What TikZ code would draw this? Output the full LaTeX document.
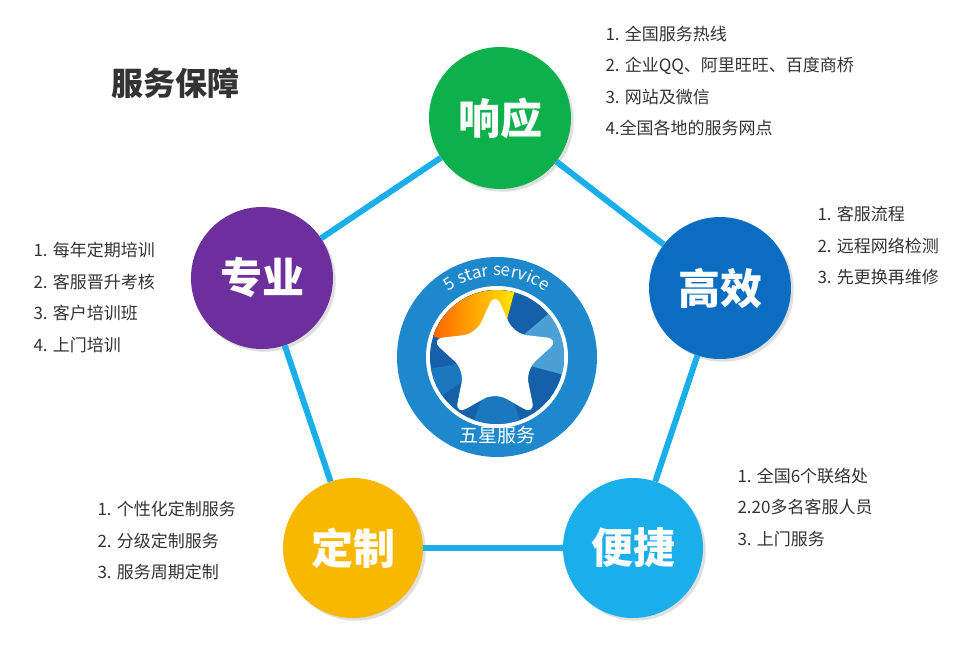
\documentclass[tikz,border=0pt]{standalone}
\usepackage{fontspec}
\setmainfont{Noto Sans CJK SC}
\usetikzlibrary{shapes.geometric,decorations.text,shadows}
\definecolor{cgreen}{HTML}{0DB04B}
\definecolor{cblue}{HTML}{0A6DC2}
\definecolor{ccyan}{HTML}{1AAEEB}
\definecolor{cyel}{HTML}{F9B800}
\definecolor{cpur}{HTML}{6E2F9E}
\definecolor{cline}{HTML}{1AAEEB}
\definecolor{logob}{HTML}{1E88CC}
\definecolor{logod}{HTML}{1560A8}
\definecolor{txt}{HTML}{333333}
\tikzset{
 bub/.style={circle,minimum size=142pt,inner sep=0pt,text=white,font=\fontsize{42}{42}\selectfont\bfseries,drop shadow={opacity=0.25}},
 lst/.style={anchor=north west,align=left,text=txt,font=\fontsize{17}{31.5}\selectfont},
 conn/.style={cline,line width=6pt}
}
\begin{document}
\begin{tikzpicture}[x=1pt,y=-1pt]
\useasboundingbox (0,0) rectangle (972,664);
\node[bub,fill=cgreen] (a) at (500,118) {响应};
\node[bub,fill=cblue] (b) at (720,288) {高效};
\node[bub,fill=ccyan,minimum size=140pt] (c) at (633,548) {便捷};
\node[bub,fill=cyel,minimum size=140pt] (d) at (353,548) {定制};
\node[bub,fill=cpur] (e) at (262,278) {专业};
\draw[conn] (a) -- (b);
\draw[conn] (b) -- (c);
\draw[conn] (c) -- (d);
\draw[conn] (d) -- (e);
\draw[conn] (e) -- (a);
% logo
\node[circle,fill=logob,minimum size=200pt,inner sep=0pt] (logo) at (497,357) {};
\begin{scope}[shift={(497,357)},x=1pt,y=1pt]
\fill[white] (0,0) circle (71);
\fill[logod] (0,0) circle (67);
\fill[left color=orange!80!red,right color=yellow!80!orange] (0,0) -- (162:67) arc[start angle=162,end angle=75,radius=67] -- cycle;
\fill[logob!80] (0,0) -- (40:67) arc[start angle=40,end angle=-15,radius=67] -- cycle;
\fill[logob!60!logod] (0,0) -- (-110:67) arc[start angle=-110,end angle=-70,radius=67] -- cycle;
\fill[logob!60!logod] (0,0) -- (190:67) arc[start angle=190,end angle=215,radius=67] -- cycle;
\node[star,star points=5,star point ratio=2.1,minimum size=136pt,fill=white,rounded corners=13pt,inner sep=0pt] (st) at (-2,-3) {};
\path[decorate,decoration={text along path,text color=white,text align=center,text={|\fontsize{17}{17}\selectfont|5 star service}}] (160:81) arc[start angle=160,end angle=20,radius=81];
\end{scope}
\node[white,font=\fontsize{19}{19}\selectfont] (lt) at (497,435) {五星服务};
\node[text=txt,font=\fontsize{32}{32}\selectfont\bfseries] (title) at (175,83) {服务保障};
\node[lst] (la) at (602,22) {1. 全国服务热线\\2. 企业QQ、阿里旺旺、百度商桥\\3. 网站及微信\\4.全国各地的服务网点};
\node[lst] (lb) at (814,203) {1. 客服流程\\2. 远程网络检测\\3. 先更换再维修};
\node[lst] (lc) at (734,464) {1. 全国6个联络处\\2.20多名客服人员\\3. 上门服务};
\node[lst] (ld) at (94,498) {1. 个性化定制服务\\2. 分级定制服务\\3. 服务周期定制};
\node[lst] (le) at (30,239) {1. 每年定期培训\\2. 客服晋升考核\\3. 客户培训班\\4. 上门培训};
\end{tikzpicture}
\end{document}
